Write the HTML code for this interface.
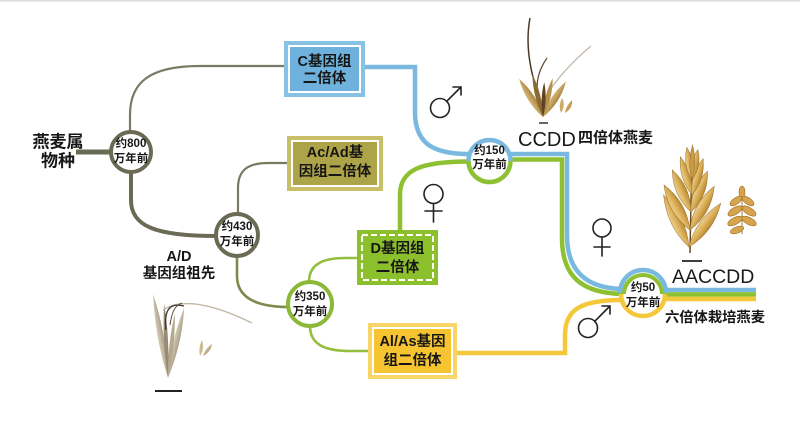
<!DOCTYPE html>
<html><head><meta charset="utf-8">
<style>
html,body{margin:0;padding:0;background:#fff;}
svg{display:block;}
text{font-family:"Liberation Sans","Noto Sans CJK SC",sans-serif;}
.b{font-weight:bold;fill:#161616;}
</style></head>
<body>
<svg width="800" height="425" viewBox="0 0 800 425" xmlns="http://www.w3.org/2000/svg">
<defs>
<linearGradient id="gold" x1="0" y1="0" x2="1" y2="0">
<stop offset="0" stop-color="#ecd08c"/><stop offset="0.5" stop-color="#dbb05a"/><stop offset="1" stop-color="#b8862f"/>
</linearGradient>
<linearGradient id="tan" x1="0" y1="0" x2="1" y2="0">
<stop offset="0" stop-color="#d8bb7a"/><stop offset="1" stop-color="#a8823e"/>
</linearGradient>
<linearGradient id="pale" x1="0" y1="0" x2="1" y2="0">
<stop offset="0" stop-color="#d6cdb8"/><stop offset="1" stop-color="#a99d86"/>
</linearGradient>
</defs>
<rect x="0" y="0" width="800" height="1.5" fill="#dcdcdc"/>

<!-- grey/olive tree -->
<path d="M76,152 H112" stroke="#6b6b55" stroke-width="5" fill="none"/>
<path d="M130,132 V115 C130,82 150,66 200,66 H285" stroke="#7a7a66" stroke-width="2.2" fill="none"/>
<path d="M131,172 V200 C131,226 155,236 216,236" stroke="#6b6b55" stroke-width="4" fill="none"/>
<path d="M238,214 V188 C238,170 248,163 268,163 H288" stroke="#7b7a60" stroke-width="2.2" fill="none"/>
<path d="M237,256 V276 C237,297 255,307 289,307" stroke="#7d8a4c" stroke-width="2.6" fill="none"/>
<path d="M309,282 C309,266 320,258 345,258 H358" stroke="#94be3e" stroke-width="2.6" fill="none"/>
<path d="M310,326 C310,344 324,351 350,351 H369" stroke="#94be3e" stroke-width="2.6" fill="none"/>

<!-- blue / green / yellow -->
<path d="M365,67 H415 V112 C415,145 435,154 469,154" stroke="#7ab9df" stroke-width="4.5" fill="none"/>
<path d="M400,231 V195 C400,170 420,161.5 469,161.5" stroke="#8dc131" stroke-width="4.5" fill="none"/>
<path d="M509,154 H567 V235 C567,270 585,288 622,289" stroke="#7ab9df" stroke-width="4.5" fill="none"/>
<path d="M509,159.5 H562 V238 C562,275 580,293.5 624,294" stroke="#8dc131" stroke-width="4.5" fill="none"/>
<path d="M456,353 H565 V335 C565,310 580,300 622,300" stroke="#f5c83c" stroke-width="4.5" fill="none"/>
<path d="M662,290 H756" stroke="#7ab9df" stroke-width="4.5" fill="none"/>
<path d="M660,294.5 H756" stroke="#8dc131" stroke-width="4.5" fill="none"/>
<path d="M660,299 H756" stroke="#f5c83c" stroke-width="4.5" fill="none"/>

<!-- circles -->
<circle cx="131" cy="152" r="20" fill="#fff" stroke="#6b6b55" stroke-width="4"/>
<circle cx="237" cy="235" r="21" fill="#fff" stroke="#6b6b55" stroke-width="4"/>
<circle cx="310" cy="304" r="22" fill="#fff" stroke="#8cb83a" stroke-width="4"/>
<circle cx="489.5" cy="161" r="21" fill="#fff"/>
<path d="M468.5,161 A21,21 0 0 1 510.5,161" stroke="#7ab9df" stroke-width="4.5" fill="none"/>
<path d="M510.5,161 A21,21 0 0 1 468.5,161" stroke="#8dc131" stroke-width="4.5" fill="none"/>
<circle cx="643" cy="294" r="21" fill="#fff"/>
<path d="M620,293 A23,23 0 0 1 666,293" stroke="#7ab9df" stroke-width="4.5" fill="none"/>
<path d="M624,294 A19,19 0 0 1 662,294" stroke="#8dc131" stroke-width="4" fill="none"/>
<path d="M665,294 A22,22 0 0 1 621,294" stroke="#f5c83c" stroke-width="4.5" fill="none"/>

<!-- circle labels -->
<g class="b" font-size="11.5" text-anchor="middle" dominant-baseline="central">
<text x="131" y="144">约800</text><text x="131" y="159">万年前</text>
<text x="237" y="227">约430</text><text x="237" y="242">万年前</text>
<text x="310" y="297">约350</text><text x="310" y="312">万年前</text>
<text x="489.5" y="151">约150</text><text x="489.5" y="165">万年前</text>
<text x="643" y="288">约50</text><text x="643" y="303">万年前</text>
</g>

<!-- boxes -->
<rect x="284" y="41" width="81" height="56" fill="#88c2e3"/>
<rect x="288" y="45" width="73" height="48" fill="#fff"/>
<rect x="290" y="47" width="69" height="44" fill="#6db1dc"/>
<rect x="287" y="136" width="96" height="55" fill="#c8bf68"/>
<rect x="291" y="140" width="88" height="47" fill="#fff"/>
<rect x="293" y="142" width="84" height="43" fill="#ada449"/>
<rect x="357" y="230" width="81" height="55" fill="#8cbf2c"/>
<rect x="362" y="235" width="71" height="45" fill="none" stroke="#fff" stroke-width="2" stroke-dasharray="6,3"/>
<rect x="368" y="323" width="89" height="56" fill="#f9d466"/>
<rect x="372" y="327" width="81" height="48" fill="#fff"/>
<rect x="374" y="329" width="77" height="44" fill="#f6c331"/>

<g class="b" font-size="14.5" text-anchor="middle" dominant-baseline="central">
<text x="324.5" y="62">C基因组</text><text x="324.5" y="79">二倍体</text>
<text x="335" y="153">Ac/Ad基</text><text x="335" y="172">因组二倍体</text>
<text x="397.5" y="249">D基因组</text><text x="397.5" y="268">二倍体</text>
<text x="412.5" y="342">Al/As基因</text><text x="412.5" y="361">组二倍体</text>
</g>

<g class="b" text-anchor="middle" dominant-baseline="central">
<text x="58" y="142" font-size="17">燕麦属</text>
<text x="58" y="161" font-size="17">物种</text>
<text x="179" y="257" font-size="14.5">A/D</text>
<text x="179" y="274" font-size="14.5">基因组祖先</text>
</g>
<text x="518" y="146" font-size="20" fill="#1a1a1a">CCDD</text>
<text x="578" y="138" class="b" font-size="15" dominant-baseline="central">四倍体燕麦</text>
<line x1="539" y1="123" x2="548" y2="123" stroke="#333" stroke-width="1.5"/>
<text x="672" y="283" font-size="19.5" fill="#1a1a1a">AACCDD</text>
<line x1="682" y1="261" x2="702" y2="261" stroke="#222" stroke-width="1.8"/>
<text x="715" y="318" class="b" font-size="14.3" text-anchor="middle" dominant-baseline="central">六倍体栽培燕麦</text>

<!-- sex symbols -->
<g stroke="#222" stroke-width="1.6" fill="none" stroke-linecap="round">
<circle cx="440" cy="108" r="9.5"/>
<path d="M446.7,101.3 L461,87 M453,87 H461 V95"/>
<circle cx="588" cy="328" r="9.5"/>
<path d="M594.7,321.3 L610,306 M602,306 H610 V314"/>
<circle cx="433.5" cy="194" r="9.5"/>
<path d="M433.5,203.5 V222 M425,211 H442"/>
<circle cx="602" cy="228" r="9"/>
<path d="M602,237 V256 M594,247 H610"/>
</g>

<!-- top oat spikelet (CCDD) -->
<g>
<path d="M540,100 C533,80 524,50 530,18" stroke="#4a3a25" stroke-width="1.5" fill="none"/>
<path d="M546,96 C556,80 572,62 591,46" stroke="#a89880" stroke-width="1.2" fill="none" opacity="0.7"/>
<path d="M538,95 C535,80 540,68 547,58" stroke="#5a4630" stroke-width="1.2" fill="none"/>
<g transform="translate(543,117)">
<path d="M0,0 Q7,-22 0,-45 Q-7,-22 0,0Z" fill="url(#tan)" transform="rotate(-32)"/>
<path d="M0,0 Q7,-21 0,-42 Q-7,-21 0,0Z" fill="url(#tan)" transform="rotate(33)"/>
<path d="M0,0 Q5,-22 0,-44 Q-5,-22 0,0Z" fill="#8c6a32" transform="rotate(-14)"/>
<path d="M0,0 Q5,-20 0,-40 Q-5,-20 0,0Z" fill="#b8914a" transform="rotate(14)"/>
<path d="M0,0 Q4,-17 0,-35 Q-4,-17 0,0Z" fill="#5e4422" transform="rotate(2)"/>
</g>
<path d="M561,113 Q566,105 562,98 Q558,106 561,113Z" fill="#cfa964"/>
<path d="M565,113 Q573,108 572,100 Q566,106 565,113Z" fill="#c59b55"/>
</g>

<!-- big oat (AACCDD) -->
<g stroke="#9a7030" stroke-width="0.5">
<path d="M690,253 L692,150" stroke="#6a4a1a" stroke-width="1.5"/>
<g transform="translate(689,247)">
<path d="M0,0 Q11,-28 0,-58 Q-11,-28 0,0Z" fill="url(#gold)" transform="rotate(-26)"/>
<path d="M0,0 Q11,-27 0,-54 Q-11,-27 0,0Z" fill="url(#gold)" transform="rotate(36)"/>
</g>
<g transform="translate(690,230)">
<path d="M0,0 Q11,-26 0,-52 Q-11,-26 0,0Z" fill="url(#gold)" transform="rotate(-30)"/>
<path d="M0,0 Q11,-25 0,-50 Q-11,-25 0,0Z" fill="url(#gold)" transform="rotate(29)"/>
</g>
<g transform="translate(691,212)">
<path d="M0,0 Q10,-23 0,-46 Q-10,-23 0,0Z" fill="url(#gold)" transform="rotate(-24)"/>
<path d="M0,0 Q10,-22 0,-44 Q-10,-22 0,0Z" fill="url(#gold)" transform="rotate(22)"/>
</g>
<g transform="translate(692,195)">
<path d="M0,0 Q8,-20 0,-40 Q-8,-20 0,0Z" fill="url(#gold)" transform="rotate(-17)"/>
<path d="M0,0 Q8,-19 0,-38 Q-8,-19 0,0Z" fill="url(#gold)" transform="rotate(17)"/>
</g>
<g transform="translate(692,180)">
<path d="M0,0 Q7,-16 0,-33 Q-7,-16 0,0Z" fill="url(#gold)" transform="rotate(-9)"/>
<path d="M0,0 Q7,-15 0,-31 Q-7,-15 0,0Z" fill="url(#gold)" transform="rotate(11)"/>
<path d="M0,0 Q5,-17 0,-35 Q-5,-17 0,0Z" fill="#c99a45" transform="rotate(1)"/>
</g>
</g>
<!-- small spike -->
<g fill="#d6a44c" stroke="#a06a25" stroke-width="0.6">
<path d="M742,234 L742,190" stroke="#a87a3a" stroke-width="1"/>
<ellipse cx="742" cy="192" rx="3" ry="6"/>
<ellipse cx="736" cy="201" rx="7" ry="3.2" transform="rotate(-35 736 201)"/>
<ellipse cx="748" cy="201" rx="7" ry="3.2" transform="rotate(35 748 201)"/>
<ellipse cx="735" cy="211" rx="8" ry="3.5" transform="rotate(-32 735 211)"/>
<ellipse cx="749" cy="211" rx="8" ry="3.5" transform="rotate(32 749 211)"/>
<ellipse cx="735" cy="221" rx="8" ry="3.5" transform="rotate(-28 735 221)"/>
<ellipse cx="749" cy="221" rx="8" ry="3.5" transform="rotate(28 749 221)"/>
<ellipse cx="737" cy="230" rx="7" ry="3.2" transform="rotate(-20 737 230)"/>
</g>

<!-- A/D grass -->
<g>
<g transform="translate(168,378)">
<path d="M0,0 Q6,-42 0,-85 Q-6,-42 0,0Z" fill="url(#pale)" transform="rotate(-10)"/>
<path d="M0,0 Q6,-36 0,-72 Q-6,-36 0,0Z" fill="url(#pale)" transform="rotate(13)"/>
<path d="M0,0 Q4,-37 0,-75 Q-4,-37 0,0Z" fill="#988b74" transform="rotate(-3)"/>
<path d="M0,0 Q4,-32 0,-65 Q-4,-32 0,0Z" fill="#b5a88f" transform="rotate(6)"/>
</g>
<path d="M163,310 C178,300 205,300 252,323" stroke="#c2b8a6" stroke-width="1.3" fill="none"/>
<path d="M166,330 C164,312 168,302 184,306" stroke="#3e3630" stroke-width="1.3" fill="none"/>
<path d="M170,325 C172,310 176,305 182,303" stroke="#5a5048" stroke-width="1" fill="none"/>
<path d="M200,356 Q205,348 202,340 Q198,348 200,356Z" fill="#cbb98f"/>
<path d="M203,356 Q211,352 212,344 Q205,349 203,356Z" fill="#c0ad82"/>
<line x1="155" y1="391" x2="182" y2="391" stroke="#222" stroke-width="2"/>
</g>
</svg>
</body></html>
